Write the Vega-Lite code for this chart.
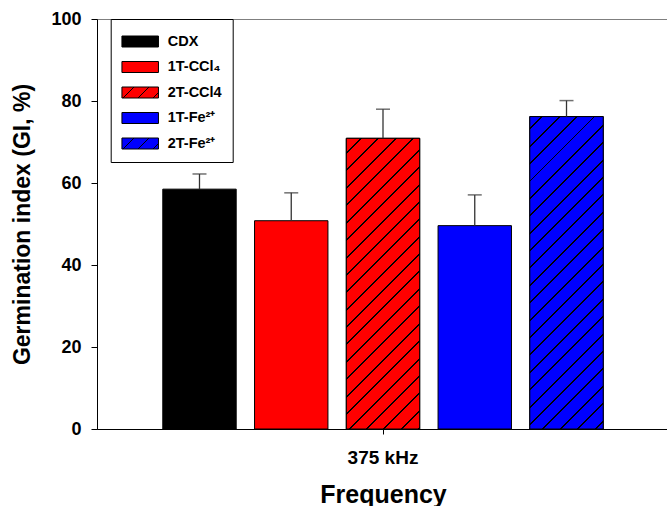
{
  "$schema": "https://vega.github.io/schema/vega-lite/v6.json",
  "width": 572,
  "height": 410,
  "autosize": {"type": "none"},
  "padding": {"left": 97, "top": 19, "right": -2, "bottom": 77},
  "config": {
    "font": "Liberation Sans",
    "view": {"stroke": "#7f7f7f", "strokeWidth": 1},
    "axis": {
      "labelFont": "Liberation Sans",
      "titleFont": "Liberation Sans",
      "labelFontWeight": "bold",
      "titleFontWeight": "bold",
      "labelColor": "black",
      "titleColor": "black",
      "domainColor": "black",
      "tickColor": "black",
      "grid": false
    }
  },
  "data": {
    "values": [
      {"freq": "375 kHz", "group": "CDX", "gi": 58.5, "upper": 62.2},
      {"freq": "375 kHz", "group": "1T-CCl₄", "gi": 50.8, "upper": 57.6},
      {"freq": "375 kHz", "group": "2T-CCl4", "gi": 70.9, "upper": 78.0},
      {"freq": "375 kHz", "group": "1T-Fe²⁺", "gi": 49.6, "upper": 57.1},
      {"freq": "375 kHz", "group": "2T-Fe²⁺", "gi": 76.2, "upper": 80.1}
    ]
  },
  "encoding": {
    "x": {
      "field": "freq",
      "type": "nominal",
      "scale": {"paddingInner": 0, "paddingOuter": 0},
      "axis": {
        "title": "Frequency",
        "labelAngle": 0,
        "labelFontSize": 19,
        "titleFontSize": 25,
        "tickSize": 5,
        "labelPadding": 14,
        "titlePadding": 15
      }
    },
    "xOffset": {
      "field": "group",
      "type": "nominal",
      "scale": {
        "domain": ["CDX", "1T-CCl₄", "2T-CCl4", "1T-Fe²⁺", "2T-Fe²⁺"],
        "paddingInner": 0.2,
        "paddingOuter": 0.717
      }
    }
  },
  "layer": [
    {
      "mark": {"type": "bar", "strokeWidth": 1},
      "encoding": {
        "y": {
          "field": "gi",
          "type": "quantitative",
          "scale": {"domain": [0, 100], "nice": false},
          "axis": {
            "title": "Germination index (GI, %)",
            "values": [0, 20, 40, 60, 80, 100],
            "labelFontSize": 18,
            "titleFontSize": 23,
            "tickSize": 6,
            "labelPadding": 10,
            "titlePadding": 16
          }
        },
        "fill": {
          "field": "group",
          "type": "nominal",
          "scale": {
            "domain": ["CDX", "1T-CCl₄", "2T-CCl4", "1T-Fe²⁺", "2T-Fe²⁺"],
            "range": [
              "#000000",
              "#ff0000",
              {"expr": "{gradient:'linear',x1:0,y1:0,x2:1.1928,y2:0.3584,stops:[{offset:0,color:'#ff0000'},{offset:0.2353,color:'#ff0000'},{offset:0.2353,color:'#000000'},{offset:0.2689,color:'#000000'},{offset:0.2689,color:'#ff0000'},{offset:0.5504,color:'#ff0000'},{offset:0.5504,color:'#000000'},{offset:0.584,color:'#000000'},{offset:0.584,color:'#ff0000'},{offset:0.8656,color:'#ff0000'},{offset:0.8656,color:'#000000'},{offset:0.8992,color:'#000000'},{offset:0.8992,color:'#ff0000'},{offset:1,color:'#ff0000'}]}"},
              "#0000ff",
              {"expr": "{gradient:'linear',x1:0,y1:0,x2:1.1928,y2:0.3584,stops:[{offset:0,color:'#0000ff'},{offset:0.2353,color:'#0000ff'},{offset:0.2353,color:'#000000'},{offset:0.2689,color:'#000000'},{offset:0.2689,color:'#0000ff'},{offset:0.5504,color:'#0000ff'},{offset:0.5504,color:'#000000'},{offset:0.584,color:'#000000'},{offset:0.584,color:'#0000ff'},{offset:0.8656,color:'#0000ff'},{offset:0.8656,color:'#000000'},{offset:0.8992,color:'#000000'},{offset:0.8992,color:'#0000ff'},{offset:1,color:'#0000ff'}]}"}
            ]
          },
          "legend": {
            "title": null,
            "orient": "none",
            "legendX": 13.7,
            "legendY": 0,
            "direction": "vertical",
            "padding": 11,
            "rowPadding": 6.5,
            "strokeColor": "black",
            "fillColor": "white",
            "symbolType": "M-1.66,-0.5H1.66V0.5H-1.66Z",
            "symbolSize": 484,
            "symbolStrokeWidth": 1,
            "symbolOpacity": 1,
            "symbolOffset": 7,
            "labelOffset": 16,
            "labelFontSize": 14.5,
            "labelFont": "Liberation Sans",
            "labelFontWeight": "bold",
            "labelColor": "black",
            "labelLimit": 200
          }
        },
        "stroke": {
          "field": "group",
          "type": "nominal",
          "scale": {
            "domain": ["CDX", "1T-CCl₄", "2T-CCl4", "1T-Fe²⁺", "2T-Fe²⁺"],
            "range": ["#000000", "#000000", "#000000", "#000000", "#000000"]
          },
          "legend": {
            "title": null,
            "orient": "none",
            "legendX": 13.7,
            "legendY": 0,
            "direction": "vertical",
            "padding": 11,
            "rowPadding": 6.5,
            "strokeColor": "black",
            "fillColor": "white",
            "symbolType": "M-1.66,-0.5H1.66V0.5H-1.66Z",
            "symbolSize": 484,
            "symbolStrokeWidth": 1,
            "symbolOpacity": 1,
            "symbolOffset": 7,
            "labelOffset": 16,
            "labelFontSize": 14.5,
            "labelFont": "Liberation Sans",
            "labelFontWeight": "bold",
            "labelColor": "black",
            "labelLimit": 200
          }
        }
      }
    },
    {
      "transform": [{"filter": "datum.group === '2T-CCl4'"}],
      "mark": {
        "type": "bar",
        "stroke": "black",
        "strokeWidth": 1,
        "fill": {
          "gradient": "linear",
          "x1": 0, "y1": 0, "x2": 0.2973, "y2": 1.1774,
          "stops": [
            {"offset": 0, "color": "#ff0000"},
            {"offset": 0.0385, "color": "#ff0000"}, {"offset": 0.0385, "color": "#000000"}, {"offset": 0.0439, "color": "#000000"}, {"offset": 0.0439, "color": "#ff0000"},
            {"offset": 0.0862, "color": "#ff0000"}, {"offset": 0.0862, "color": "#000000"}, {"offset": 0.0917, "color": "#000000"}, {"offset": 0.0917, "color": "#ff0000"},
            {"offset": 0.134, "color": "#ff0000"}, {"offset": 0.134, "color": "#000000"}, {"offset": 0.1395, "color": "#000000"}, {"offset": 0.1395, "color": "#ff0000"},
            {"offset": 0.1818, "color": "#ff0000"}, {"offset": 0.1818, "color": "#000000"}, {"offset": 0.1873, "color": "#000000"}, {"offset": 0.1873, "color": "#ff0000"},
            {"offset": 0.2296, "color": "#ff0000"}, {"offset": 0.2296, "color": "#000000"}, {"offset": 0.2351, "color": "#000000"}, {"offset": 0.2351, "color": "#ff0000"},
            {"offset": 0.2774, "color": "#ff0000"}, {"offset": 0.2774, "color": "#000000"}, {"offset": 0.2829, "color": "#000000"}, {"offset": 0.2829, "color": "#ff0000"},
            {"offset": 0.3252, "color": "#ff0000"}, {"offset": 0.3252, "color": "#000000"}, {"offset": 0.3307, "color": "#000000"}, {"offset": 0.3307, "color": "#ff0000"},
            {"offset": 0.373, "color": "#ff0000"}, {"offset": 0.373, "color": "#000000"}, {"offset": 0.3785, "color": "#000000"}, {"offset": 0.3785, "color": "#ff0000"},
            {"offset": 0.4208, "color": "#ff0000"}, {"offset": 0.4208, "color": "#000000"}, {"offset": 0.4263, "color": "#000000"}, {"offset": 0.4263, "color": "#ff0000"},
            {"offset": 0.4686, "color": "#ff0000"}, {"offset": 0.4686, "color": "#000000"}, {"offset": 0.474, "color": "#000000"}, {"offset": 0.474, "color": "#ff0000"},
            {"offset": 0.5163, "color": "#ff0000"}, {"offset": 0.5163, "color": "#000000"}, {"offset": 0.5218, "color": "#000000"}, {"offset": 0.5218, "color": "#ff0000"},
            {"offset": 0.5641, "color": "#ff0000"}, {"offset": 0.5641, "color": "#000000"}, {"offset": 0.5696, "color": "#000000"}, {"offset": 0.5696, "color": "#ff0000"},
            {"offset": 0.6119, "color": "#ff0000"}, {"offset": 0.6119, "color": "#000000"}, {"offset": 0.6174, "color": "#000000"}, {"offset": 0.6174, "color": "#ff0000"},
            {"offset": 0.6597, "color": "#ff0000"}, {"offset": 0.6597, "color": "#000000"}, {"offset": 0.6652, "color": "#000000"}, {"offset": 0.6652, "color": "#ff0000"},
            {"offset": 0.7075, "color": "#ff0000"}, {"offset": 0.7075, "color": "#000000"}, {"offset": 0.713, "color": "#000000"}, {"offset": 0.713, "color": "#ff0000"},
            {"offset": 0.7553, "color": "#ff0000"}, {"offset": 0.7553, "color": "#000000"}, {"offset": 0.7608, "color": "#000000"}, {"offset": 0.7608, "color": "#ff0000"},
            {"offset": 0.8031, "color": "#ff0000"}, {"offset": 0.8031, "color": "#000000"}, {"offset": 0.8086, "color": "#000000"}, {"offset": 0.8086, "color": "#ff0000"},
            {"offset": 0.8509, "color": "#ff0000"}, {"offset": 0.8509, "color": "#000000"}, {"offset": 0.8564, "color": "#000000"}, {"offset": 0.8564, "color": "#ff0000"},
            {"offset": 0.8987, "color": "#ff0000"}, {"offset": 0.8987, "color": "#000000"}, {"offset": 0.9041, "color": "#000000"}, {"offset": 0.9041, "color": "#ff0000"},
            {"offset": 0.9465, "color": "#ff0000"}, {"offset": 0.9465, "color": "#000000"}, {"offset": 0.9519, "color": "#000000"}, {"offset": 0.9519, "color": "#ff0000"},
            {"offset": 0.9942, "color": "#ff0000"}, {"offset": 0.9942, "color": "#000000"}, {"offset": 1, "color": "#000000"}
          ]
        }
      },
      "encoding": {
        "y": {"field": "gi", "type": "quantitative", "title": "Germination index (GI, %)"}
      }
    },
    {
      "transform": [{"filter": "datum.group === '2T-Fe²⁺'"}],
      "mark": {
        "type": "bar",
        "stroke": "black",
        "strokeWidth": 1,
        "fill": {
          "gradient": "linear",
          "x1": 0, "y1": 0, "x2": 0.275, "y2": 1.1703,
          "stops": [
            {"offset": 0, "color": "#0000ff"},
            {"offset": 0.0295, "color": "#0000ff"}, {"offset": 0.0295, "color": "#000000"}, {"offset": 0.0347, "color": "#000000"}, {"offset": 0.0347, "color": "#0000ff"},
            {"offset": 0.0746, "color": "#0000ff"}, {"offset": 0.0746, "color": "#000000"}, {"offset": 0.0798, "color": "#000000"}, {"offset": 0.0798, "color": "#0000ff"},
            {"offset": 0.1198, "color": "#0000ff"}, {"offset": 0.1198, "color": "#000000"}, {"offset": 0.1249, "color": "#000000"}, {"offset": 0.1249, "color": "#0000ff"},
            {"offset": 0.1649, "color": "#0000ff"}, {"offset": 0.1649, "color": "#000000"}, {"offset": 0.17, "color": "#000000"}, {"offset": 0.17, "color": "#0000ff"},
            {"offset": 0.21, "color": "#0000ff"}, {"offset": 0.21, "color": "#000000"}, {"offset": 0.2151, "color": "#000000"}, {"offset": 0.2151, "color": "#0000ff"},
            {"offset": 0.255, "color": "#0000ff"}, {"offset": 0.255, "color": "#000000"}, {"offset": 0.2602, "color": "#000000"}, {"offset": 0.2602, "color": "#0000ff"},
            {"offset": 0.3001, "color": "#0000ff"}, {"offset": 0.3001, "color": "#000000"}, {"offset": 0.3053, "color": "#000000"}, {"offset": 0.3053, "color": "#0000ff"},
            {"offset": 0.3452, "color": "#0000ff"}, {"offset": 0.3452, "color": "#000000"}, {"offset": 0.3504, "color": "#000000"}, {"offset": 0.3504, "color": "#0000ff"},
            {"offset": 0.3903, "color": "#0000ff"}, {"offset": 0.3903, "color": "#000000"}, {"offset": 0.3955, "color": "#000000"}, {"offset": 0.3955, "color": "#0000ff"},
            {"offset": 0.4354, "color": "#0000ff"}, {"offset": 0.4354, "color": "#000000"}, {"offset": 0.4406, "color": "#000000"}, {"offset": 0.4406, "color": "#0000ff"},
            {"offset": 0.4805, "color": "#0000ff"}, {"offset": 0.4805, "color": "#000000"}, {"offset": 0.4857, "color": "#000000"}, {"offset": 0.4857, "color": "#0000ff"},
            {"offset": 0.5256, "color": "#0000ff"}, {"offset": 0.5256, "color": "#000000"}, {"offset": 0.5308, "color": "#000000"}, {"offset": 0.5308, "color": "#0000ff"},
            {"offset": 0.5707, "color": "#0000ff"}, {"offset": 0.5707, "color": "#000000"}, {"offset": 0.5759, "color": "#000000"}, {"offset": 0.5759, "color": "#0000ff"},
            {"offset": 0.6158, "color": "#0000ff"}, {"offset": 0.6158, "color": "#000000"}, {"offset": 0.621, "color": "#000000"}, {"offset": 0.621, "color": "#0000ff"},
            {"offset": 0.6609, "color": "#0000ff"}, {"offset": 0.6609, "color": "#000000"}, {"offset": 0.6661, "color": "#000000"}, {"offset": 0.6661, "color": "#0000ff"},
            {"offset": 0.706, "color": "#0000ff"}, {"offset": 0.706, "color": "#000000"}, {"offset": 0.7112, "color": "#000000"}, {"offset": 0.7112, "color": "#0000ff"},
            {"offset": 0.7511, "color": "#0000ff"}, {"offset": 0.7511, "color": "#000000"}, {"offset": 0.7563, "color": "#000000"}, {"offset": 0.7563, "color": "#0000ff"},
            {"offset": 0.7962, "color": "#0000ff"}, {"offset": 0.7962, "color": "#000000"}, {"offset": 0.8014, "color": "#000000"}, {"offset": 0.8014, "color": "#0000ff"},
            {"offset": 0.8413, "color": "#0000ff"}, {"offset": 0.8413, "color": "#000000"}, {"offset": 0.8465, "color": "#000000"}, {"offset": 0.8465, "color": "#0000ff"},
            {"offset": 0.8864, "color": "#0000ff"}, {"offset": 0.8864, "color": "#000000"}, {"offset": 0.8916, "color": "#000000"}, {"offset": 0.8916, "color": "#0000ff"},
            {"offset": 0.9315, "color": "#0000ff"}, {"offset": 0.9315, "color": "#000000"}, {"offset": 0.9367, "color": "#000000"}, {"offset": 0.9367, "color": "#0000ff"},
            {"offset": 0.9766, "color": "#0000ff"}, {"offset": 0.9766, "color": "#000000"}, {"offset": 0.9818, "color": "#000000"}, {"offset": 0.9818, "color": "#0000ff"},
            {"offset": 1, "color": "#0000ff"}
          ]
        }
      },
      "encoding": {
        "y": {"field": "gi", "type": "quantitative", "title": "Germination index (GI, %)"}
      }
    },
    {
      "mark": {"type": "rule", "color": "#333333", "strokeWidth": 1.3},
      "encoding": {
        "y": {"field": "gi", "type": "quantitative", "title": "Germination index (GI, %)"},
        "y2": {"field": "upper"}
      }
    },
    {
      "mark": {"type": "tick", "color": "#333333", "size": 14, "thickness": 1.5, "orient": "horizontal"},
      "encoding": {
        "y": {"field": "upper", "type": "quantitative", "title": "Germination index (GI, %)"}
      }
    }
  ]
}
